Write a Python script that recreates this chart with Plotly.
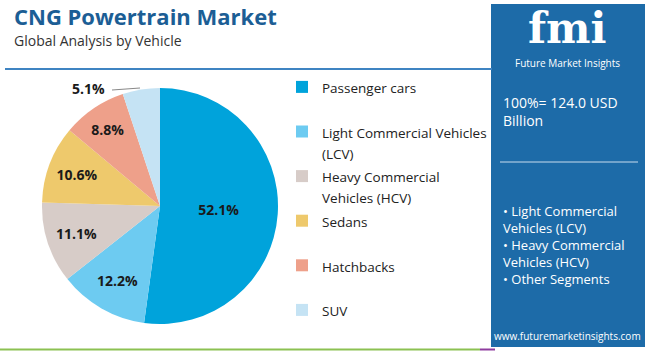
import plotly.graph_objects as go

categories = ["Passenger cars", "Light Commercial Vehicles (LCV)", "Heavy Commercial Vehicles (HCV)",
              "Sedans", "Hatchbacks", "SUV"]
legend_labels = ["Passenger cars<br> ", "Light Commercial Vehicles<br>(LCV)", "Heavy Commercial<br>Vehicles (HCV)",
                 "Sedans<br> ", "Hatchbacks<br> ", "SUV<br> "]
shares = [52.1, 12.2, 11.1, 10.6, 8.8, 5.1]
colors = ["#00A3DB", "#6DCBF1", "#D7CCC8", "#EEC96C", "#EEA08A", "#C5E3F4"]
total_text = "100%= 124.0 USD<br>Billion"
panel_bullets = "• Light Commercial<br>Vehicles (LCV)<br>• Heavy Commercial<br>Vehicles (HCV)<br>• Other Segments"

W, H = 650, 351
def px(x): return x / W
def py(y): return 1 - y / H

texts = ["%.1f%%" % v for v in shares]
texts[-1] = ""

styled_labels = ["<br>".join('<span style="font-size:13.5px">' + part + "</span>" for part in lab.split("<br>"))
                 for lab in legend_labels]

fig = go.Figure()
fig.add_trace(go.Pie(
    labels=styled_labels, values=shares, sort=False, direction="clockwise", rotation=0,
    marker=dict(colors=colors, line=dict(color="white", width=0)),
    text=texts, textinfo="text", textposition="inside", insidetextorientation="horizontal",
    textfont=dict(family="Open Sans", size=14, color="#1a1a1a", weight="bold"),
    domain=dict(x=[px(42), px(278)], y=[py(324), py(88)]),
    showlegend=True, hoverinfo="percent",
))

fig.update_layout(
    width=W, height=H, margin=dict(l=0, r=0, t=0, b=0, autoexpand=False),
    paper_bgcolor="white", plot_bgcolor="white",
    legend=dict(x=px(282), y=py(70), xanchor="left", yanchor="top", valign="top",
                font=dict(family="Open Sans", size=16, color="#222222"),
                itemwidth=30, tracegroupgap=0, bgcolor="rgba(0,0,0,0)"),
    shapes=[
        dict(type="line", xref="paper", yref="paper", x0=px(5), x1=px(492), y0=py(69), y1=py(69),
             line=dict(color="#3F84C2", width=2)),
        dict(type="rect", xref="paper", yref="paper", x0=px(491), x1=px(645), y0=py(347), y1=py(4),
             fillcolor="#1D6BA8", line=dict(width=0), layer="below"),
        dict(type="line", xref="paper", yref="paper", x0=px(500), x1=px(638), y0=py(162), y1=py(162),
             line=dict(color="#C9DDEE", width=1)),
        dict(type="line", xref="paper", yref="paper", x0=px(0), x1=px(480), y0=py(349.5), y1=py(349.5),
             line=dict(color="#8CC152", width=2)),
        dict(type="line", xref="paper", yref="paper", x0=px(480), x1=px(495), y0=py(349.5), y1=py(349.5),
             line=dict(color="#8E3C9E", width=2)),
        dict(type="line", xref="paper", yref="paper", x0=px(112), x1=px(140), y0=py(90), y1=py(88),
             line=dict(color="#888888", width=1)),
    ],
    annotations=[
        dict(text="<b>CNG Powertrain Market</b>", x=px(12), y=py(16), xref="paper", yref="paper",
             xanchor="left", yanchor="middle", showarrow=False,
             font=dict(family="Open Sans", size=22, color="#1C5E95")),
        dict(text="Global Analysis by Vehicle", x=px(12), y=py(41), xref="paper", yref="paper",
             xanchor="left", yanchor="middle", showarrow=False,
             font=dict(family="Open Sans", size=14, color="#333333")),
        dict(text="<b>5.1%</b>", x=px(107), y=py(88), xref="paper", yref="paper",
             xanchor="right", yanchor="middle", showarrow=False,
             font=dict(family="Open Sans", size=14, color="#1a1a1a")),
        dict(text="<b>fmi</b>", x=px(567), y=py(28), xref="paper", yref="paper",
             xanchor="center", yanchor="middle", showarrow=False,
             font=dict(family="DejaVu Serif", size=42, color="white")),
        dict(text="Future Market Insights", x=px(567), y=py(63), xref="paper", yref="paper",
             xanchor="center", yanchor="middle", showarrow=False,
             font=dict(family="Open Sans", size=10, color="white")),
        dict(text=total_text, x=px(501), y=py(111), xref="paper", yref="paper",
             xanchor="left", yanchor="middle", align="left", showarrow=False,
             font=dict(family="Open Sans", size=14, color="white")),
        dict(text=panel_bullets, x=px(501), y=py(245), xref="paper", yref="paper",
             xanchor="left", yanchor="middle", align="left", showarrow=False,
             font=dict(family="Open Sans", size=13, color="white")),
        dict(text="www.futuremarketinsights.com", x=px(567), y=py(336), xref="paper", yref="paper",
             xanchor="center", yanchor="middle", showarrow=False,
             font=dict(family="Open Sans", size=10, color="white")),
    ],
)

fig.write_html("out.html")
